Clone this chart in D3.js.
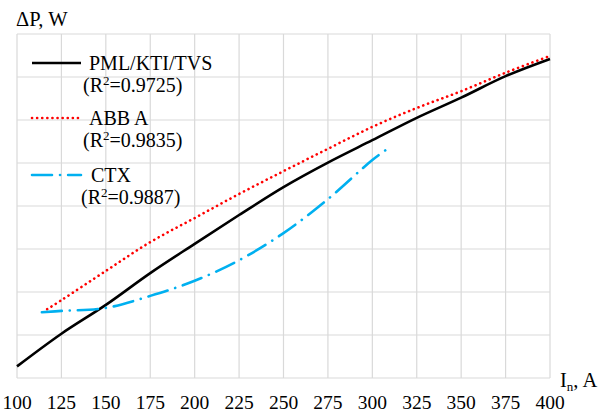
<!DOCTYPE html>
<html><head><meta charset="utf-8">
<script src="https://cdn.jsdelivr.net/npm/d3@7"></script>
<style>body{margin:0;background:#fff}svg{display:block}</style>
</head><body><svg id="c" width="614" height="412" font-family="'Liberation Serif', 'DejaVu Serif', serif"></svg>
<script>
const xTicks = [100,125,150,175,200,225,250,275,300,325,350,375,400];
const yGrid = [0,1,2,3,4,5,6,7,8];
const pmlX = [100,125,150,175,200,225,250,275,300,325,350,375,400];
const pmlY = [0.27,1.03,1.70,2.44,3.12,3.79,4.44,5.01,5.53,6.05,6.52,7.02,7.42];
const abbX = [117,125,150,175,200,225,250,275,300,325,350,375,400];
const abbY = [1.60,1.81,2.49,3.16,3.72,4.28,4.81,5.33,5.84,6.28,6.67,7.10,7.49];
const ctxX = [114,125,150,175,200,225,250,275,300,310];
const ctxY = [1.53,1.56,1.63,1.91,2.26,2.74,3.37,4.16,5.07,5.37];
const seriesNames = ["PML/KTI/TVS","ABB A","CTX"];
const r2 = ["0.9725","0.9835","0.9887"];

const svg = d3.select("#c");
const x = d3.scaleLinear().domain([100,400]).range([17,550]);
const y = d3.scaleLinear().domain([0,8]).range([378,34]);

// grid
svg.append("g").selectAll("line").data(xTicks).join("line")
  .attr("x1",d=>x(d)).attr("x2",d=>x(d)).attr("y1",y(0)).attr("y2",y(8))
  .attr("stroke","#d9d9d9").attr("stroke-width",1.2);
svg.append("g").selectAll("line").data(yGrid).join("line")
  .attr("x1",x(100)).attr("x2",x(400)).attr("y1",d=>y(d)).attr("y2",d=>y(d))
  .attr("stroke","#d9d9d9").attr("stroke-width",1.2);

// x tick labels
svg.append("g").selectAll("text").data(xTicks).join("text")
  .attr("x",d=>x(d)).attr("y",409).attr("text-anchor","middle")
  .attr("font-size",19.5).attr("fill","#000").text(d=>d);

// axis titles
svg.append("text").attr("x",16).attr("y",26).attr("font-size",20.5).text("ΔP, W");
const xt = svg.append("text").attr("x",560).attr("y",387).attr("font-size",20.5);
xt.append("tspan").text("I");
xt.append("tspan").attr("font-size",13).attr("dy",4).text("n");
xt.append("tspan").attr("dy",-4).text(", A");

const line = d3.line().curve(d3.curveCatmullRom.alpha(0.5));
function draw(xs, ys, color, dash){
  svg.append("path").attr("d", line(xs.map((v,i)=>[x(v), y(ys[i])])))
    .attr("fill","none").attr("stroke",color).attr("stroke-width",2.6)
    .attr("stroke-dasharray",dash).attr("stroke-linecap", dash? "round":"butt");
}
draw(pmlX,pmlY,"#000000",null);
draw(abbX,abbY,"#ff0000","0.1,5");
draw(ctxX,ctxY,"#00b0f0","20,8,0.1,8");

// legend
const leg = [
  {c:"#000000",d:null,ly:63,ty:70,ry:92,rx:83},
  {c:"#ff0000",d:"0.1,5",ly:118,ty:125,ry:147,rx:83},
  {c:"#00b0f0",d:"20,8,0.1,8",ly:175,ty:182,ry:204,rx:81}
];
leg.forEach((l,i)=>{
  svg.append("line").attr("x1",32).attr("x2",81).attr("y1",l.ly).attr("y2",l.ly)
    .attr("stroke",l.c).attr("stroke-width",2.6).attr("stroke-dasharray",l.d)
    .attr("stroke-linecap", l.d?"round":"butt");
  svg.append("text").attr("x",i===2?91:89).attr("y",l.ty).attr("font-size",20).text(seriesNames[i]);
  const t = svg.append("text").attr("x",l.rx).attr("y",l.ry).attr("font-size",20);
  t.append("tspan").text("(R");
  t.append("tspan").attr("font-size",13).attr("dy",-7).text("2");
  t.append("tspan").attr("dy",7).text("=" + r2[i] + ")");
});
</script></body></html>
